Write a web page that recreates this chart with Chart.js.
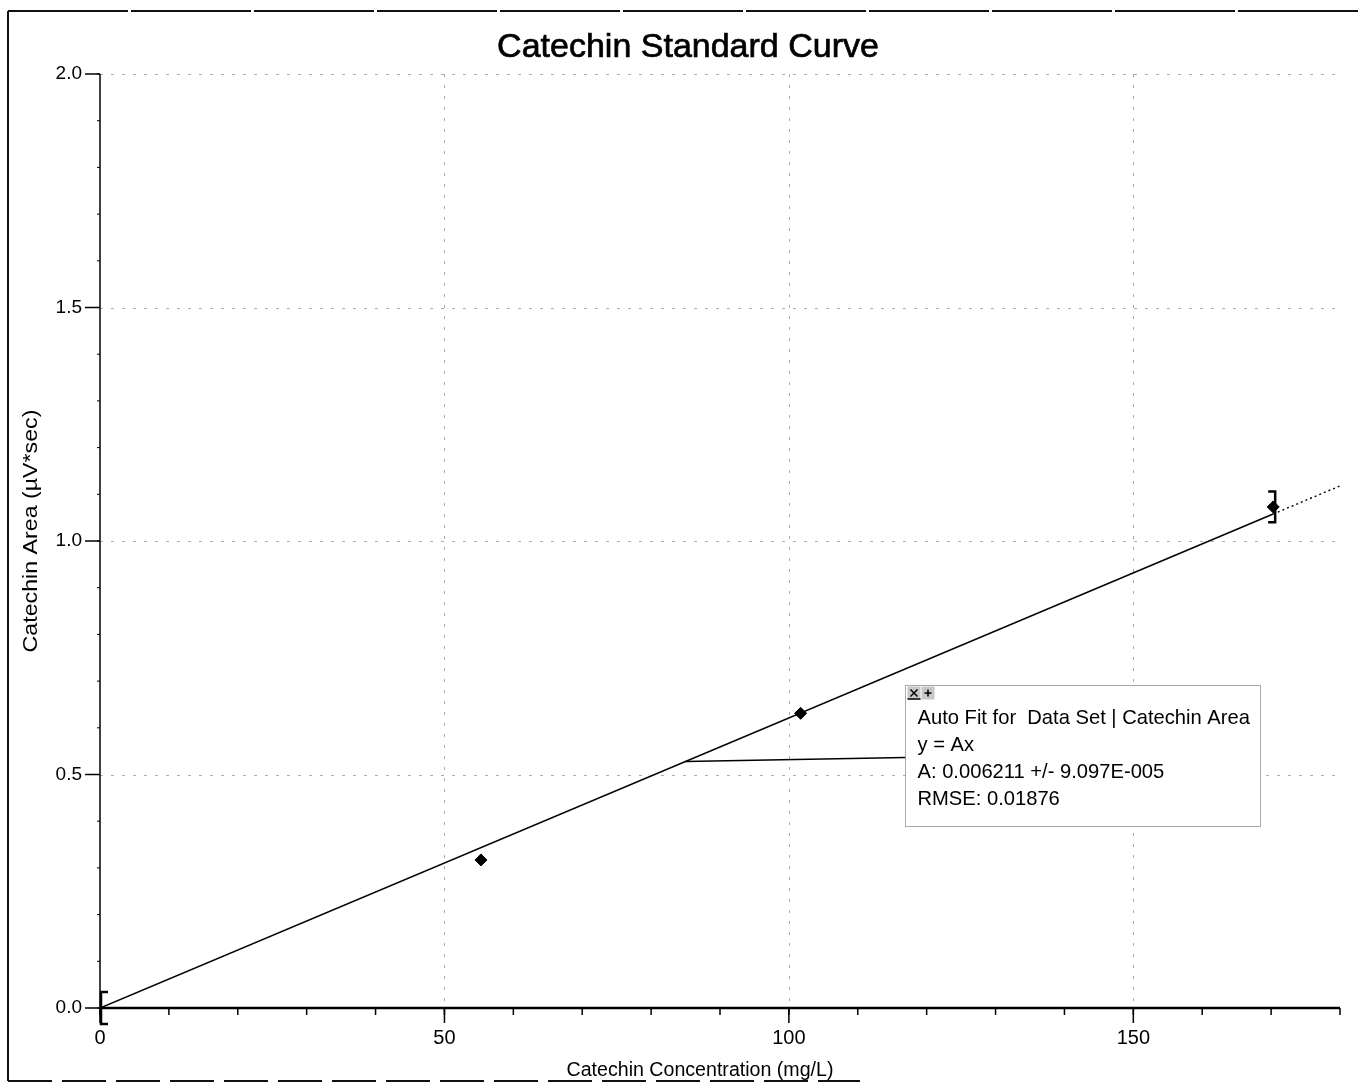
<!DOCTYPE html>
<html>
<head>
<meta charset="utf-8">
<title>Catechin Standard Curve</title>
<script src="https://cdn.jsdelivr.net/npm/chart.js@4.4.0/dist/chart.umd.min.js"></script>
<style>
  html, body { margin: 0; padding: 0; background: #fff; }
  #wrap { position: relative; width: 1360px; height: 1083px; }
</style>
</head>
<body>
<div id="wrap"><canvas id="curve"></canvas></div>
<script>
// --- Standards ---
const concentration = [0, 55.3, 101.7, 170.3];   // mg/L
const area = [0, 0.317, 0.631, 1.073];            // µV*sec
const areaError = [0.034, 0, 0, 0.033];

// --- Axes ---
const xRange = [0, 180];
const yRange = [0, 2];
const xTicks = [0, 50, 100, 150];
const yTicks = [0, 0.5, 1.0, 1.5, 2.0];
const xMinorStep = 10;
const yMinorStep = 0.1;

// --- Fit (y = Ax) ---
const fitA = 0.006211;
const fitText = [
    'Auto Fit for  Data Set | Catechin Area',
    'y = Ax',
    'A: 0.006211 +/- 9.097E-005',
    'RMSE: 0.01876'
];

const FONT = '"Liberation Sans", Arial, sans-serif';

// note box, placed in data units so it follows the scales
const note = { left: 116.9, right: 168.4, top: 0.692, bottom: 0.390, anchorX: 85 };

const points = concentration.map((x, i) => ({ x, y: area[i] }));
const lastX = concentration[concentration.length - 1];
const fitSolid = [{ x: 0, y: 0 }, { x: lastX, y: fitA * lastX }];
const fitDotted = [{ x: lastX, y: fitA * lastX }, { x: xRange[1], y: fitA * xRange[1] }];

function text(ctx, str, x, y, size, align, sx, stroke) {
    ctx.save();
    ctx.font = size + 'px ' + FONT;
    ctx.fillStyle = '#000';
    ctx.textAlign = align || 'left';
    ctx.textBaseline = 'alphabetic';
    ctx.translate(x, y);
    ctx.scale(sx || 1, 1);
    ctx.fillText(str, 0, 0);
    if (stroke) {
        ctx.strokeStyle = '#000';
        ctx.lineWidth = stroke;
        ctx.strokeText(str, 0, 0);
    }
    ctx.restore();
}

function line(ctx, x1, y1, x2, y2) {
    ctx.beginPath();
    ctx.moveTo(x1, y1);
    ctx.lineTo(x2, y2);
    ctx.stroke();
}

const framePlugin = {
    id: 'frame',
    beforeDraw(chart) {
        const ctx = chart.ctx;
        ctx.save();
        ctx.fillStyle = '#fff';
        ctx.fillRect(0, 0, chart.width, chart.height);

        // page border
        ctx.strokeStyle = '#111';
        ctx.lineWidth = 2;
        ctx.setLineDash([120, 3]);
        line(ctx, 8, 11, chart.width, 11);
        ctx.setLineDash([44, 10]);
        line(ctx, 8, 1081, 860, 1081);
        ctx.setLineDash([]);
        line(ctx, 8, 11, 8, 1081);
        ctx.restore();

        text(ctx, 'Catechin Standard Curve', 688, 57, 34, 'center', 1, 0.7);
        text(ctx, 'Catechin Concentration (mg/L)', 700, 1076, 20, 'center', 0.98);

        ctx.save();
        ctx.translate(37, 531);
        ctx.rotate(-Math.PI / 2);
        text(ctx, 'Catechin Area (\u00b5V*sec)', 0, 0, 20, 'center', 1.16);
        ctx.restore();
    },
    beforeDatasetsDraw(chart) {
        const { ctx, chartArea: a, scales: { x, y } } = chart;
        ctx.save();
        ctx.strokeStyle = '#ababab';
        ctx.lineWidth = 1;
        ctx.setLineDash([3, 8]);
        yTicks.filter(v => v > 0).forEach(v => {
            const py = Math.round(y.getPixelForValue(v)) + 0.5;
            line(ctx, a.left, py, a.right, py);
        });
        xTicks.filter(v => v > 0).forEach(v => {
            const px = Math.round(x.getPixelForValue(v)) + 0.5;
            line(ctx, px, a.top, px, a.bottom);
        });
        ctx.restore();
    },
    afterDatasetsDraw(chart) {
        const { ctx, chartArea: a, scales: { x, y } } = chart;
        ctx.save();
        ctx.strokeStyle = '#000';

        // axes
        ctx.lineWidth = 1.5;
        line(ctx, a.left, a.top, a.left, a.bottom);
        yTicks.forEach(v => {
            const py = y.getPixelForValue(v);
            line(ctx, a.left - 15, py, a.left, py);
        });
        ctx.lineWidth = 1;
        for (let v = yRange[0]; v <= yRange[1] + 1e-9; v += yMinorStep) {
            const py = y.getPixelForValue(v);
            line(ctx, a.left - 3, py, a.left, py);
        }
        ctx.lineWidth = 2.5;
        line(ctx, a.left, a.bottom, a.right, a.bottom);
        ctx.lineWidth = 1.5;
        xTicks.forEach(v => {
            const px = x.getPixelForValue(v);
            line(ctx, px, a.bottom, px, a.bottom + 15);
        });
        for (let v = xRange[0]; v <= xRange[1] + 1e-9; v += xMinorStep) {
            const px = x.getPixelForValue(v);
            line(ctx, px, a.bottom, px, a.bottom + 7);
        }

        // error bars
        ctx.lineWidth = 2.5;
        concentration.forEach((cx, i) => {
            const err = areaError[i];
            if (!err) return;
            const dir = cx === 0 ? 1 : -1;
            const px = x.getPixelForValue(cx) + (dir > 0 ? 1 : 2);
            const top = y.getPixelForValue(area[i] + err);
            const bot = y.getPixelForValue(area[i] - err);
            ctx.beginPath();
            ctx.moveTo(px + dir * 7, top);
            ctx.lineTo(px, top);
            ctx.lineTo(px, bot);
            ctx.lineTo(px + dir * 7, bot);
            ctx.stroke();
        });

        // fit note with leader line
        const bl = Math.round(x.getPixelForValue(note.left)) + 0.5;
        const br = Math.round(x.getPixelForValue(note.right)) + 0.5;
        const bt = Math.round(y.getPixelForValue(note.top)) + 0.5;
        const bb = Math.round(y.getPixelForValue(note.bottom)) + 0.5;
        ctx.lineWidth = 1.5;
        line(ctx, x.getPixelForValue(note.anchorX), y.getPixelForValue(fitA * note.anchorX), bl, bt + 72);

        ctx.fillStyle = '#fff';
        ctx.fillRect(bl, bt, br - bl, bb - bt);
        ctx.strokeStyle = '#555';
        ctx.lineWidth = 1;
        ctx.setLineDash([1, 1]);
        ctx.strokeRect(bl, bt, br - bl, bb - bt);
        ctx.setLineDash([]);

        // close / expand buttons
        ctx.fillStyle = '#c8c8c8';
        ctx.fillRect(bl + 2, bt + 1, 13, 13);
        ctx.fillRect(bl + 16, bt + 1, 13, 13);
        ctx.strokeStyle = '#000';
        ctx.lineWidth = 1.5;
        line(ctx, bl + 5, bt + 4, bl + 12, bt + 11);
        line(ctx, bl + 12, bt + 4, bl + 5, bt + 11);
        line(ctx, bl + 2, bt + 13.5, bl + 15, bt + 13.5);
        line(ctx, bl + 19, bt + 7.5, bl + 26, bt + 7.5);
        line(ctx, bl + 22.5, bt + 4, bl + 22.5, bt + 11);
        ctx.restore();

        fitText.forEach((s, i) => {
            text(ctx, s, bl + 12, bt + 38 + i * 27, 21, 'left', 0.96);
        });
    }
};

new Chart(document.getElementById('curve'), {
    type: 'scatter',
    data: {
        datasets: [
            {
                label: 'Catechin Area',
                data: points,
                pointStyle: 'rectRot',
                pointRadius: c => (c.raw && c.raw.x === 0 ? 0 : 6),
                backgroundColor: '#000',
                borderColor: '#000',
                borderWidth: 1,
                order: 0
            },
            {
                label: 'Fit',
                data: fitSolid,
                showLine: true,
                pointRadius: 0,
                borderColor: '#000',
                borderWidth: 1.6,
                order: 1
            },
            {
                label: 'Fit extension',
                data: fitDotted,
                showLine: true,
                pointRadius: 0,
                borderColor: '#000',
                borderWidth: 1.4,
                borderDash: [2, 3],
                order: 1
            }
        ]
    },
    options: {
        responsive: true,
        maintainAspectRatio: false,
        animation: false,
        events: [],
        layout: { padding: { left: 0, top: 74, right: 20, bottom: 0 } },
        plugins: {
            legend: { display: false },
            tooltip: { enabled: false }
        },
        scales: {
            x: {
                type: 'linear',
                min: xRange[0],
                max: xRange[1],
                afterBuildTicks: s => { s.ticks = xTicks.map(value => ({ value })); },
                afterFit: s => { s.height = 75; },
                grid: { display: false, drawTicks: false },
                border: { display: false },
                ticks: {
                    padding: 18,
                    color: '#000',
                    font: { family: FONT, size: 20 },
                    maxRotation: 0,
                    callback: v => String(v)
                }
            },
            y: {
                type: 'linear',
                min: yRange[0],
                max: yRange[1],
                afterBuildTicks: s => { s.ticks = yTicks.map(value => ({ value })); },
                afterFit: s => { s.width = 100; },
                grid: { display: false, drawTicks: false },
                border: { display: false },
                ticks: {
                    padding: 18,
                    color: '#000',
                    font: { family: FONT, size: 19 },
                    callback: v => v.toFixed(1)
                }
            }
        }
    },
    plugins: [framePlugin]
});
</script>
</body>
</html>
